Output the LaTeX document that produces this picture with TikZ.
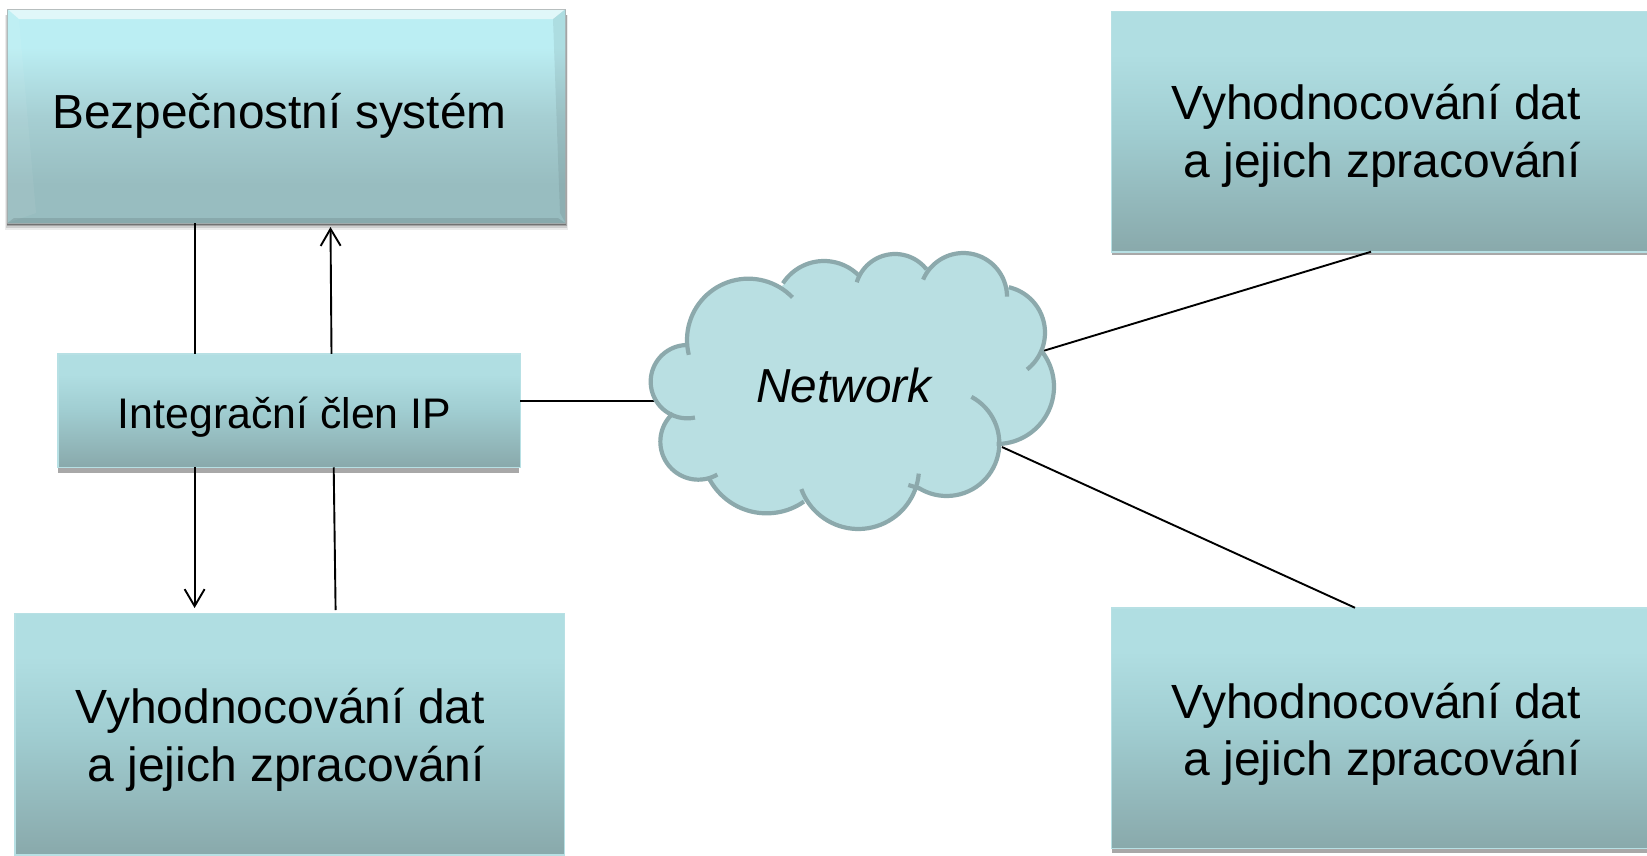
\documentclass[tikz,border=0pt]{standalone}
\usepackage{fontspec}
\setmainfont{Liberation Sans}
\usetikzlibrary{arrows.meta,calc}
\definecolor{bxtop}{HTML}{B0DEE2}
\definecolor{bxmid}{HTML}{A0CDD1}
\definecolor{bxbot}{HTML}{89A9AB}
\definecolor{bztop}{HTML}{BBEEF3}
\definecolor{bzmid}{HTML}{A6CFD3}
\definecolor{bzbot}{HTML}{98BDC0}
\definecolor{bxedge}{HTML}{B7E0E4}
\definecolor{strip}{HTML}{A8A8A8}
\definecolor{cloudfill}{HTML}{B9DFE2}
\definecolor{cloudline}{HTML}{8CA9AC}
\pgfdeclareverticalshading{boxgrad}{100bp}{color(0bp)=(bxbot); color(25bp)=(bxbot); color(50bp)=(bxmid); color(66bp)=(bxtop); color(75bp)=(bxtop); color(100bp)=(bxtop)}
\pgfdeclareverticalshading{bezgrad}{100bp}{color(0bp)=(bzbot); color(25bp)=(bzbot); color(34bp)=(bzbot); color(50bp)=(bzmid); color(66bp)=(bztop); color(75bp)=(bztop); color(100bp)=(bztop)}
% each cloud lobe: centre x, centre y, radius, start angle, end angle
\newcommand\cloudarcs[1]{%
 #1{172}{455}{110}{78}{272}%
 #1{205}{635}{114}{228}{60}%
 #1{410}{655}{195}{153}{55}%
 #1{685}{715}{182}{160}{5}%
 #1{950}{640}{158}{-62}{122}%
 #1{1100}{470}{172}{-40}{90}%
 #1{1105}{308}{140}{-77}{52}%
 #1{1000}{200}{131}{203}{360}%
 #1{795}{192}{120}{197}{322}%
 #1{582}{240}{147}{213}{315}%
 #1{355}{330}{184}{316}{166}%
}
\newcommand\cloudfillarc[5]{\fill[cloudfill] (650,480) -- plot[domain=#4:#5,samples=40,variable=\t] ({#1+#3*cos(\t)},{#2+#3*sin(\t)}) -- cycle;}
\newcommand\cloudlinearc[5]{\draw[cloudstroke] plot[domain=#4:#5,samples=40,variable=\t] ({#1+#3*cos(\t)},{#2+#3*sin(\t)});}
\tikzset{
  conn/.style={black,line width=1.9pt},
  openarrow/.style={-{Straight Barb[length=17pt,width=20pt,line width=1.9pt]}},
  cloudstroke/.style={cloudline,line width=4.2pt},
  plainbox/.style={rectangle,inner sep=0pt,outer sep=0pt,draw=bxedge,line width=1.5pt,shading=boxgrad,minimum width=#1},
  boxtext/.style={font=\fontsize{48}{57.5}\selectfont,inner sep=0pt,outer sep=0pt,text=black},
}
\begin{document}
\begin{tikzpicture}[x=1pt,y=-1pt]
\useasboundingbox (0,0) rectangle (1647,855);
\fill[white] (0,0) rectangle (1647,855);
% shadows below boxes
\foreach \g/\o in {7/.08,5/.12,3/.2,1.5/.3}
  \fill[black,opacity=\o] (7.5-\g/3,15) rectangle (565.5+\g/3,223+\g);
\fill[strip] (58,460) rectangle (519,473);
\fill[strip] (1112,240) rectangle (1647,255);
\fill[strip] (1112,840) rectangle (1647,853);
% boxes
\node[rectangle,inner sep=0pt,outer sep=0pt,minimum width=558pt,minimum height=214pt,shading=bezgrad] (bez) at (286.5,116) {};
\fill[white,opacity=.55] (7.5,9) -- (565.5,9) -- (553,19) -- (19,19) -- cycle;
\fill[white,opacity=.06] (7.5,9) -- (19,19) -- (36,213) -- (7.5,223) -- cycle;
\fill[black,opacity=.07] (565.5,9) -- (553,19) -- (560,213) -- (565.5,223) -- cycle;
\fill[black,opacity=.10] (7.5,223) -- (14,218) -- (558,218) -- (565.5,223) -- cycle;
\draw[black!35,opacity=.7,line width=.8pt] (bez.north west) rectangle (bez.south east);
\node[plainbox=462.5pt,minimum height=113.5pt] (ip) at (289,410.5) {};
\node[plainbox=549.5pt,minimum height=241.5pt] (evalL) at (289.5,734) {};
\node[plainbox=538.5pt,minimum height=240.5pt] (evalTR) at (1380.5,131.5) {};
\node[plainbox=538.5pt,minimum height=240.5pt] (evalBR) at (1380.5,728) {};
% cloud anchors
\coordinate (netW) at (655,401);
\coordinate (netNE) at (1043,351);
\coordinate (netSE) at (1002,447);
% connectors
\draw[conn] (netW -| ip.east) -- (netW);
\draw[conn] (netNE) -- (evalTR.south -| 1371,0);
\draw[conn] (netSE) -- (evalBR.north -| 1355,0);
\draw[conn] (bez.south -| 195,0) -- (ip.north -| 195,0);
\draw[conn,openarrow] (ip.north -| 331.5,0) -- (330.5,227);
\draw[conn,openarrow] (ip.south -| 194.6,0) -- (194.6,608);
\draw[conn] (ip.south -| 333.7,0) -- (335.6,610);
% cloud
\begin{scope}[shift={(630,230)},x=.33333pt,y=-.33333pt]
\fill[cloudfill] (180,345) -- (460,165) -- (690,130) -- (895,110) -- (1135,178) -- (1240,362) -- (1110,640) -- (868,780) -- (520,815) -- (230,745) -- (130,552) -- cycle;
\cloudarcs{\cloudfillarc}
\cloudarcs{\cloudlinearc}
\draw[cloudstroke] (868,775) -- (835,765);
\end{scope}
% labels
\node[boxtext,anchor=base,font=\fontsize{47.8}{57.5}\selectfont] (bezlabel) at (279.4,128) {Bezpečnostní systém};
\node[boxtext,anchor=base,font=\fontsize{42.8}{50}\selectfont] (iplabel) at (284.5,428.7) {Integrační člen IP};
\node[boxtext,anchor=base,font=\fontsize{47.7}{57.5}\selectfont\itshape] (netlabel) at (844,402) {Network};
\node[boxtext,anchor=base east,align=right] (evalLlabel) at (485,781) {Vyhodnocování dat\\a jejich zpracování};
\node[boxtext,anchor=base east,align=right] (evalTRlabel) at (1581,177) {Vyhodnocování dat\\a jejich zpracování};
\node[boxtext,anchor=base east,align=right] (evalBRlabel) at (1581,775.5) {Vyhodnocování dat\\a jejich zpracování};
\end{tikzpicture}
\end{document}
